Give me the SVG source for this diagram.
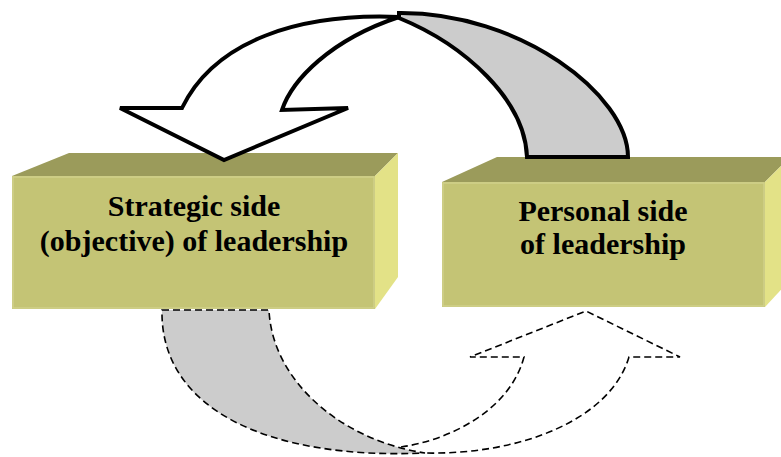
<svg xmlns="http://www.w3.org/2000/svg" width="781" height="457" viewBox="0 0 781 457">
<style>
.front{fill:#C4C475;}
.top{fill:#9B9B5B;}
.side{fill:#E3E287;}
.edge{fill:none;stroke:#D0D08A;stroke-width:1.5;}
.lbl{font-weight:bold;font-size:30px;fill:#000;text-anchor:middle;}
.solid{stroke:#000;stroke-width:4;stroke-linejoin:miter;}
.dash{stroke:#000;stroke-width:1.6;stroke-dasharray:7 4;}
</style>
<rect width="781" height="457" fill="#fff"/>
<g id="node-strategic">
<polygon class="top" points="12,176 69,153 398,153 375,176"/>
<polygon class="side" points="375,176 398,153 398,277 375,309"/>
<rect class="front" x="12" y="176" width="363" height="133"/>
<rect class="edge" x="13" y="177" width="361" height="131"/>
<text class="lbl" x="194" y="216" font-family="Liberation Serif, serif">Strategic side</text>
<text class="lbl" x="194" y="251" font-family="Liberation Serif, serif">(objective) of leadership</text>
</g>
<g id="node-personal">
<polygon class="top" points="442,182 497,157 790,157 765,182"/>
<polygon class="side" points="765,182 790,157 790,280 765,307"/>
<rect class="front" x="442" y="182" width="323" height="125"/>
<rect class="edge" x="443" y="183" width="321" height="123"/>
<text class="lbl" x="603" y="221" font-family="Liberation Serif, serif">Personal side</text>
<text class="lbl" x="603" y="254" font-family="Liberation Serif, serif">of leadership</text>
</g>
<g id="connectors">
<g id="arrow-top">
<path class="solid" fill="#CCCCCC" d="M399,13 C520,12 628,95 628,157 L527,157 C525,100 465,45 399,18 Z"/>
<path class="solid" fill="#FFFFFF" d="M120,108 L224,160 L348,108 L282,110 C292,80 330,40 399,17 C300,13 215,40 182,108 Z"/>
</g>
<g id="arrow-bottom">
<path class="dash" fill="#FFFFFF" d="M401,447 C450,440 510,410 524,357 L470,357 L586,311 L680,357 L629,357 C610,420 520,455 425,453"/>
<path class="dash" fill="#CCCCCC" d="M162,310 L269,310 C272,380 340,440 425,453 C270,460 160,410 162,310 Z"/>
</g>
</g>
</svg>
